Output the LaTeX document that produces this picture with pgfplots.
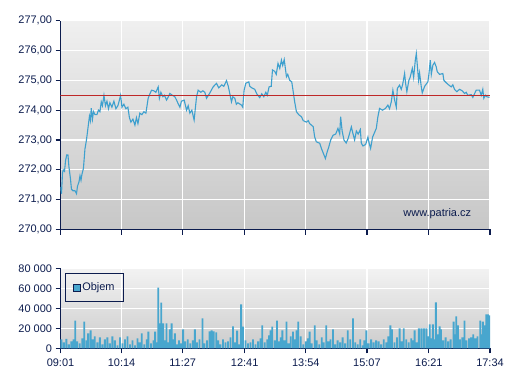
\documentclass[border=0pt]{standalone}
\usepackage{pgfplots}
\pgfplotsset{compat=1.18}
\usepackage{fontspec}
\setmainfont{Liberation Sans}
\definecolor{navy}{RGB}{12,28,78}
\definecolor{lineblue}{RGB}{62,160,206}
\definecolor{barblue}{RGB}{72,166,206}
\definecolor{refred}{RGB}{190,40,40}

\pgfplotstableread{
m p
0 271.43
1.2 271.2
2.4 271.9
3.3 272.0
4.8 271.95
6.0 272.3
7.4 272.5
8.9 272.5
10.1 272.1
11.9 271.7
13.1 271.35
14.9 271.3
17.3 271.3
19.1 271.2
20.3 271.45
22.1 271.6
23.3 271.8
24.5 271.65
25.6 271.85
27.4 272.05
29.2 272.7
31.0 273.0
32.8 273.4
34.6 273.8
35.8 273.65
36.7 274.07
38.2 273.7
39.4 273.95
41.2 273.85
43.5 273.85
45.3 274.0
47.1 273.95
48.7 274.28
50.1 274.15
51.9 274.5
53.7 274.15
55.5 274.3
57.3 274.05
59.0 274.25
61.4 274.1
63.8 274.3
66.2 274.05
68.6 274.15
71.8 274.5
73.4 274.1
75.7 274.2
78.1 274.05
80.5 274.1
82.3 273.75
84.1 273.6
86.5 273.7
88.9 273.5
90.7 273.75
92.5 273.55
94.8 273.9
97.2 273.85
99.6 273.95
102.0 273.9
104.7 274.4
106.8 274.55
108.8 274.67
111.5 274.65
113.9 274.6
116.7 274.78
118.1 274.4
119.9 274.6
122.3 274.45
124.1 274.5
126.7 274.34
128.8 274.45
130.6 274.56
133.6 274.5
136.6 274.45
138.6 274.34
140.8 274.2
142.6 274.1
144.4 274.3
147.7 274.34
150.6 274.0
152.5 274.15
154.5 273.9
156.9 274.0
159.6 273.67
162.5 274.45
164.4 274.67
167.6 274.6
170.0 274.65
172.4 274.6
174.4 274.4
177.8 274.55
182.3 274.78
186.3 274.9
189.0 274.75
192.6 274.85
195.0 274.8
198.3 274.99
200.4 274.8
202.2 274.56
204.2 274.28
205.8 274.45
208.2 274.4
210.0 274.2
211.8 274.25
216.2 274.17
217.7 274.1
219.3 274.67
221.3 274.9
224.9 274.95
226.1 274.8
228.5 274.75
232.0 274.7
234.4 274.55
238.0 274.42
240.4 274.55
242.8 274.45
245.2 274.6
247.0 274.5
249.1 274.78
251.7 274.8
253.2 275.35
255.9 275.3
257.7 275.2
259.8 275.57
261.9 275.4
263.9 275.68
265.4 275.5
267.2 275.7
269.9 275.12
271.4 275.2
273.8 275.0
276.2 274.95
277.7 274.67
279.7 274.28
281.8 273.95
284.5 273.85
287.8 273.78
289.9 273.65
293.7 273.6
295.9 273.65
297.6 273.55
299.7 273.5
301.8 273.45
303.6 273.1
305.6 272.94
309.6 272.89
311.6 272.72
314.7 272.5
316.4 272.38
318.5 272.6
320.3 272.75
322.7 273.0
325.5 273.16
328.7 273.2
331.4 273.39
333.5 273.2
334.6 273.78
336.4 273.3
338.6 273.0
341.2 272.9
343.6 273.05
347.4 273.44
349.0 273.25
351.3 273.0
353.4 273.3
355.5 273.2
358.1 273.35
359.3 272.9
361.2 272.8
364.5 272.85
367.2 273.1
368.6 272.9
370.4 272.72
372.8 273.1
377.2 273.39
379.1 273.78
381.1 274.06
384.6 274.0
388.2 274.06
391.0 274.17
393.0 274.05
395.1 274.28
397.0 274.67
399.0 274.35
401.1 274.1
402.3 274.73
405.0 274.84
407.0 274.7
408.6 274.85
411.0 275.23
412.2 274.9
413.7 274.62
416.1 275.0
417.6 275.1
420.2 275.4
421.8 275.1
423.8 275.68
425.0 275.9
426.2 275.5
427.7 275.0
428.9 275.25
430.9 274.79
432.1 274.58
434.9 274.8
438.8 274.95
440.0 275.2
441.7 275.68
442.9 275.2
444.8 275.51
446.8 275.6
448.8 275.45
450.0 275.29
452.8 275.2
456.7 275.23
457.9 275.0
460.7 274.92
463.5 274.85
466.7 274.78
468.6 274.85
470.6 274.7
473.4 274.62
476.6 274.7
479.8 274.65
482.6 274.56
484.6 274.6
486.5 274.5
490.6 274.52
492.5 274.43
494.5 274.55
496.5 274.67
500.5 274.67
502.5 274.5
504.4 274.7
505.6 274.4
507.6 274.5
509.2 274.45
512.4 274.43
}\pricetable

\pgfplotstableread{
m v
1 9000
4 6000
7 9500
10 4000
13 7000
15.5 9000
17.7 27600
20 7000
23 5000
26 10000
28.4 26600
31 8000
33 15000
36 18000
38.5 9000
41 12000
44 6000
47 11000
50 4000
53 9000
56 11000
59 5000
62 12000
65 8000
68 3000
71 11000
74 5000
77 9000
80 12000
83 4000
86 8000
89 3000
92 10000
94.5 6000
97 15000
100 4000
103 9000
105 16600
108 5000
111 8000
113 16600
115 6000
116.7 60600
118.5 25000
120.3 45600
122.6 25000
124.5 8000
126.7 25000
128.5 6000
130.6 19000
132.7 25000
134.5 9000
136.6 15000
139 4000
141.5 8000
144 5000
146.5 19000
149 7000
152 9000
155 5000
158 8000
160.5 19000
163 6000
166 9000
169.6 30000
172 5000
175 8000
178 17000
180.5 18000
183 17000
186 16000
188.5 8000
191 4000
194 9000
197 6000
200 7000
203 11000
206 22000
208.5 6000
211 17600
213.5 4000
215.7 44000
218 21600
221 8000
224 5000
227 6000
230 9000
233 4000
236 7000
239 10000
241 23000
244 6000
247 9000
249 13000
251 18000
253 21600
256 8000
258.6 27600
261 7000
263 11000
265 18000
267.5 8000
270 26600
272.5 5000
275 12000
277.7 16600
280 9000
282 18000
284 26600
287 12000
290 4000
293 7000
295.5 10000
297.6 16600
300 5000
303.6 23000
306 8000
309 4000
312 11000
314.5 6000
317.5 23000
320 7000
322.5 9000
325.5 19000
328 4000
331 8000
334 6000
337 11000
340 5000
343 18000
346 9000
349.3 30000
352 6000
355 4000
358 9000
361 3000
363 8000
365.3 18000
368 5000
371 9000
374 6000
377 8000
380 7000
383 4000
386 9000
389 6000
391.5 12000
394 23000
396 19000
399 6000
402 11000
405 20000
407.5 7000
410 20000
413 9000
416 6000
419 10000
421 8000
423 18000
425.5 6000
428 20000
431 20000
434 20000
437 20000
439 12000
441 24000
443 10000
444.8 24000
446.5 9000
448.3 46000
450.5 14000
452.8 22000
454.5 19000
457 8000
460 11000
463 7000
466 9000
469.5 26600
471 14000
472.7 32000
474.6 23000
477 9000
480 11000
482.6 27600
485 8000
488 10000
490.5 11000
493 14000
495.5 10000
498 12000
501.3 27600
503 14000
504.5 26600
506.5 23000
508.5 34000
510.5 34000
512 33000
}\voltable

\pgfplotsset{
  chartbase/.style={
    scale only axis,
    width=429.5bp,
    anchor=south west,
    xmin=0, xmax=513,
    axis lines=left,
    axis line style={-, navy, line width=1.2bp},
    tick align=outside,
    major tick length=5bp,
    tick style={navy, line width=1.2bp},
    xtick={0,73,146,220,293,366,440,513},
    grid=major,
    major grid style={white, line width=1.2bp},
    tick label style={font=\fontsize{11}{13}\selectfont, text=navy},
    xticklabel style={yshift=-2bp},
    clip=true,
  }
}

\begin{document}
\begin{tikzpicture}
\path[use as bounding box] (0bp,0bp) rectangle (507bp,380bp);

\begin{axis}[chartbase,
  at={(60.5bp,150.5bp)}, height=208.8bp,
  ymin=270, ymax=277, ytick={270,271,...,277},
  xticklabels={},
  axis background/.style={top color=black!6, bottom color=black!22},
  yticklabel style={/pgf/number format/.cd, fixed, fixed zerofill, precision=2, use comma, assume math mode=true},
]
\addplot[lineblue, line width=1.1bp] table[x=m, y=p] {\pricetable};
\addplot[refred, line width=1bp] coordinates {(0,274.5) (513,274.5)};
\node[text=navy, font=\fontsize{11}{13}\selectfont] at (axis cs:450,270.54) {www.patria.cz};
\end{axis}

\begin{axis}[chartbase,
  at={(60.5bp,31.7bp)}, height=80bp,
  ymin=0, ymax=80000, ytick={0,20000,40000,60000,80000},
  yticklabels={0,20 000,40 000,60 000,80 000},
  scaled y ticks=false,
  xticklabels={09:01,10:14,11:27,12:41,13:54,15:07,16:21,17:34},
  axis background/.style={top color=black!5, bottom color=black!20},
  legend style={at={(0.0105,0.9375)}, anchor=north west, draw=navy, fill=none,
    line width=1bp, font=\fontsize{11}{13}\selectfont, text=navy,
    inner xsep=7bp, inner ysep=7bp},
  legend image code/.code={\draw[fill=barblue, draw=navy, line width=0.8bp] (0bp,-3.5bp) rectangle (7bp,3.5bp);},
]
\addplot[ybar, bar width=2.2, bar shift=0pt, fill=barblue, draw=none] table[x=m, y=v] {\voltable};
\addlegendentry{Objem}
\end{axis}
\end{tikzpicture}
\end{document}
